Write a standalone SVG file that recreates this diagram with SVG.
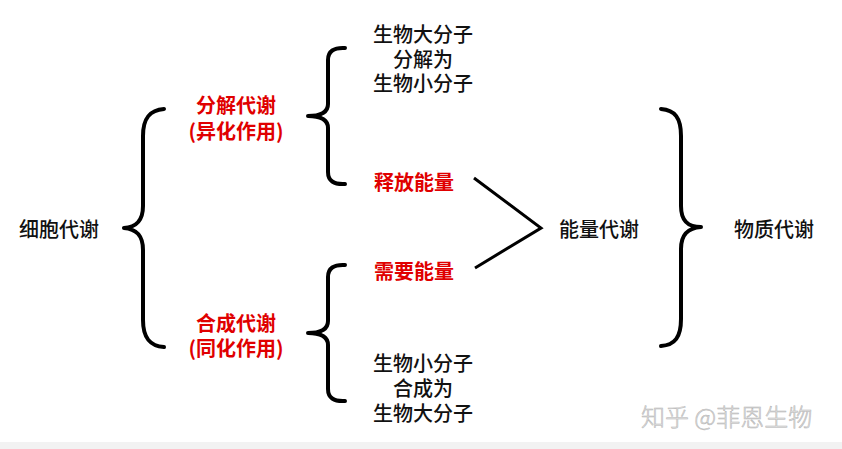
<svg xmlns="http://www.w3.org/2000/svg" width="842" height="449" viewBox="0 0 842 449">
<style>
.t{font-family:"Noto Sans CJK SC","Microsoft YaHei",sans-serif;font-size:20px;text-anchor:middle;dominant-baseline:central}
.b{fill:#111;font-weight:500}
.r{fill:#e00000;font-weight:700}
.br{fill:none;stroke:#000;stroke-width:4;stroke-linecap:round;stroke-linejoin:round}
.wm{font-family:"Noto Sans CJK SC",sans-serif;font-size:24px;font-weight:300;fill:#e2e2e2;stroke:#b4b4b4;stroke-width:0.5;dominant-baseline:central}
</style>
<rect width="842" height="449" fill="#fff"/>
<rect x="0" y="442" width="842" height="7" fill="#f2f2f2"/>
<g id="connectors">
<path class="br" d="M164,109 C150,110 143,118 143,136 L143,206 C143,221 136,227 124,228 C136,229 143,235 143,250 L143,320 C143,338 150,346 164,347"/>
<path class="br" d="M345,48 Q328,47 328,60 L328,104 Q328,116 308,116 Q328,116 328,128 L328,172 Q328,185 345,184"/>
<path class="br" d="M345,265 Q328,264 328,277 L328,321 Q328,333 308,333 Q328,333 328,345 L328,389 Q328,402 345,401"/>
<path class="br" d="M661,109 C675,110 681,118 681,136 L681,206 C681,221 688,227 701,227 C688,228 681,234 681,249 L681,319 C681,337 675,345 661,346"/>
<path fill="none" stroke="#000" stroke-width="3" d="M474,178 L541,228 L475,268"/>
</g>
<g id="n-cell"><text class="t b" x="59" y="228">细胞代谢</text></g>
<g id="n-catab"><text class="t r" x="236" y="104">分解代谢</text><text class="t r" x="236" y="130">(异化作用)</text></g>
<g id="n-anab"><text class="t r" x="236" y="322">合成代谢</text><text class="t r" x="236" y="347">(同化作用)</text></g>
<g id="n-decomp"><text class="t b" x="423" y="33">生物大分子</text><text class="t b" x="423" y="58">分解为</text><text class="t b" x="423" y="82">生物小分子</text></g>
<g id="n-release"><text class="t r" x="414" y="181">释放能量</text></g>
<g id="n-need"><text class="t r" x="414" y="270">需要能量</text></g>
<g id="n-synth"><text class="t b" x="423" y="362">生物小分子</text><text class="t b" x="423" y="387">合成为</text><text class="t b" x="423" y="412">生物大分子</text></g>
<g id="n-energy"><text class="t b" x="599" y="228">能量代谢</text></g>
<g id="n-matter"><text class="t b" x="774" y="228">物质代谢</text></g>
<text class="wm" x="641" y="415">知乎 @菲恩生物</text>
</svg>
